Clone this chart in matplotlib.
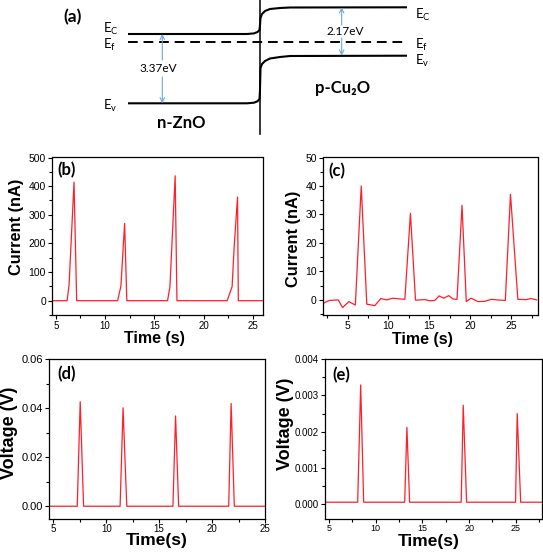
"""
band diagram + photo-response traces (panels a-e)
"""

import matplotlib
matplotlib.use('Agg')
from matplotlib import pyplot as plt
from matplotlib.ticker import MultipleLocator

plt.rcParams['font.family'] = ['Liberation Sans', 'DejaVu Sans']
plt.rcParams['mathtext.fontset'] = 'custom'
plt.rcParams['mathtext.rm'] = 'Lato'

# (a) band diagram, schematic units (x right, y down)
ec_x = [128, 247, 254, 257.5, 259.5, 260, 260.5, 262, 265, 270, 280, 290, 407]
ec_y = [34, 34, 33.4, 32, 30, 25, 18, 14, 11, 9, 8, 7.5, 7.3]
ev_x = [128, 247, 254, 257.5, 259.5, 260, 260.5, 262, 265, 270, 280, 290, 407]
ev_y = [103.3, 103.3, 102.7, 101.3, 99, 90, 68, 64, 61, 58.5, 57, 56, 55.7]
ef_x = [128, 407]
ef_y = [42.3, 42.3]
junction_x = [260, 260]
junction_y = [0, 134]
gap_labels = ['3.37eV', '2.17eV']

# (b) current
b_time = [4.65, 6.15, 6.35, 6.85, 7.12, 11.27, 11.6, 11.98, 12.2, 16.33, 16.57, 17.1, 17.28,
          22.37, 22.87, 23.08, 23.42, 23.5, 26.0]
b_current = [0, 0, 55, 414, 0, 0, 51, 270, 0, 0, 49, 436, 0, 0, 49, 189, 362, 0, 0]

# (c) current
c_time = [2.0, 2.76, 3.86, 4.39, 5.16, 5.95, 6.67, 7.35, 8.33, 9.07, 9.76, 10.5, 11.2, 12.0,
          12.68, 13.3, 14.43, 15.04, 15.65, 16.18, 16.75, 17.36, 17.89, 18.37, 18.98, 19.5,
          20.08, 20.93, 21.75, 22.56, 23.3, 24.27, 24.9, 25.8, 26.83, 27.4, 28.1]
c_current = [-1.2, -0.2, 0, -2.7, -0.6, -1.8, 40, -1.5, -2, 0.5, 0, 0.6, 0.4, 0.2,
             30.4, -0.1, 0.1, -0.3, -0.2, 1.4, 0.6, 1.5, 0.3, 0.2, 33.2, -0.6,
             0.6, -0.6, -0.5, 0.2, 0, -0.2, 37.1, 0.2, 0.1, 0.5, 0]

# (d) voltage
d_time = [4.62, 7.26, 7.54, 7.86, 11.31, 11.59, 11.94, 16.3, 16.55, 16.84, 21.57, 21.8, 22.1, 25.0]
d_voltage = [0, 0, 0.0426, 0, 0, 0.0401, 0, 0, 0.0368, 0, 0, 0.0419, 0, 0]

# (e) voltage
e_time = [4.57, 8.07, 8.39, 8.71, 13.1, 13.34, 13.63, 19.15, 19.37, 19.73, 24.97, 25.15, 25.52, 27.75]
e_voltage = [0.00005, 0.00005, 0.00329, 0.00005, 0.00005, 0.00212, 0.00005,
             0.00005, 0.00273, 0.00005, 0.00005, 0.0025, 0.00005, 0.00005]

RED = '#ff1f2a'
BLUE = '#6fa8dc'
W, H = 543, 553


def px_axes(fig, left, top, right, bottom):
    # axes from pixel box (origin top-left)
    return fig.add_axes([left / W, 1 - bottom / H, (right - left) / W, (bottom - top) / H])


def style_panel(ax, xlim, ylim, xmaj, ymaj, xfs, yfs):
    ax.set_xlim(xlim)
    ax.set_ylim(ylim)
    ax.xaxis.set_major_locator(MultipleLocator(xmaj))
    ax.xaxis.set_minor_locator(MultipleLocator(xmaj / 2))
    ax.yaxis.set_major_locator(MultipleLocator(ymaj))
    ax.yaxis.set_minor_locator(MultipleLocator(ymaj / 2))
    ax.tick_params(which='major', direction='out', length=3, width=0.8, pad=1.5)
    ax.tick_params(which='minor', direction='out', length=2, width=0.8)
    ax.tick_params(axis='x', labelsize=xfs, pad=1)
    ax.tick_params(axis='y', labelsize=yfs)
    for s in ax.spines.values():
        s.set_linewidth(0.9)


def panel_tag(ax, tag, x, y):
    ax.text(x, y, tag, transform=ax.transAxes, ha='center', va='center',
            fontsize=12, fontweight='bold', family='Lato')


fig = plt.figure(figsize=(W / 100, H / 100), dpi=100)

# ---- (a)
ax = px_axes(fig, 0, 0, W, 135)
ax.set_xlim(0, W)
ax.set_ylim(135, 0)
ax.axis('off')
ax.plot(ec_x, ec_y, color='k', lw=1.5, solid_capstyle='butt')
ax.plot(ev_x, ev_y, color='k', lw=1.5, solid_capstyle='butt')
ax.plot(ef_x, ef_y, color='k', lw=1.4, dashes=(5, 3))
ax.plot(junction_x, junction_y, color='k', lw=1.1)

arrow = dict(arrowstyle='->', color=BLUE, lw=0.8, mutation_scale=8, shrinkA=0, shrinkB=0)
ax.annotate('', xy=(162.3, ec_y[0]), xytext=(162.3, 60), arrowprops=arrow)
ax.annotate('', xy=(162.3, ev_y[0]), xytext=(162.3, 77), arrowprops=arrow)
ax.annotate('', xy=(341.7, ec_y[-1]), xytext=(341.7, 25), arrowprops=arrow)
ax.annotate('', xy=(341.7, ev_y[-1]), xytext=(341.7, 38), arrowprops=arrow)
ax.text(158, 68.5, gap_labels[0], ha='center', va='center', fontsize=8.5, family='Lato')
ax.text(345, 31.5, gap_labels[1], ha='center', va='center', fontsize=8.5, family='Lato')

lvl = dict(ha='left', va='center', fontsize=9.5, family='Lato')
ax.text(103, 29, r'E$_{\rm C}$', **lvl)
ax.text(103, 45, r'E$_{\rm f}$', **lvl)
ax.text(103, 106, r'E$_{\rm v}$', **lvl)
ax.text(415, 15, r'E$_{\rm C}$', **lvl)
ax.text(415, 45, r'E$_{\rm f}$', **lvl)
ax.text(415, 61, r'E$_{\rm v}$', **lvl)

ax.text(72.5, 17, '(a)', ha='center', va='center', fontsize=12.5, fontweight='bold', family='Lato')
ax.text(181, 123, 'n-ZnO', ha='center', va='center', fontsize=12, fontweight='bold', family='Lato')
ax.text(343, 87.5, 'p-Cu\u2082O', ha='center', va='center', fontsize=12, fontweight='bold',
        family=['Lato', 'DejaVu Sans'])

# ---- (b)
ax = px_axes(fig, 52.3, 157.5, 263, 315)
ax.plot(b_time, b_current, color=RED, lw=0.9)
style_panel(ax, (4.65, 26.0), (-50, 500), 5, 100, 7, 7.5)
ax.set_xlabel('Time (s)', fontsize=11.5, fontweight='bold')
ax.set_ylabel('Current (nA)', fontsize=11.8, fontweight='bold')
ax.xaxis.set_label_coords(0.487, -0.1)
ax.yaxis.set_label_coords(-0.136, 0.56)
panel_tag(ax, '(b)', 0.07, 0.92)

# ---- (c)
ax = px_axes(fig, 323, 157.5, 537.5, 315)
ax.plot(c_time, c_current, color=RED, lw=0.9)
style_panel(ax, (2.0, 28.2), (-5.3, 50), 5, 10, 7.5, 7.5)
ax.set_xlabel('Time (s)', fontsize=11.5, fontweight='bold')
ax.set_ylabel('Current (nA)', fontsize=11.8, fontweight='bold')
ax.xaxis.set_label_coords(0.463, -0.105)
ax.yaxis.set_label_coords(-0.103, 0.483)
panel_tag(ax, '(c)', 0.064, 0.914)

# ---- (d)
ax = px_axes(fig, 49.3, 359, 265, 518.5)
ax.plot(d_time, d_voltage, color=RED, lw=0.9)
style_panel(ax, (4.62, 25.0), (-0.005, 0.06), 5, 0.02, 7, 8)
ax.yaxis.set_major_formatter(plt.FormatStrFormatter('%.2f'))
ax.set_xlabel('Time(s)', fontsize=12.5, fontweight='bold')
ax.set_ylabel('Voltage (V)', fontsize=13, fontweight='bold')
ax.xaxis.set_label_coords(0.498, -0.09)
ax.yaxis.set_label_coords(-0.145, 0.536)
panel_tag(ax, '(d)', 0.082, 0.904)

# ---- (e)
ax = px_axes(fig, 325, 359.3, 541.5, 518.5)
ax.plot(e_time, e_voltage, color=RED, lw=0.9)
style_panel(ax, (4.57, 27.75), (-0.0004, 0.004), 5, 0.001, 6.5, 7)
ax.yaxis.set_major_formatter(plt.FormatStrFormatter('%.3f'))
ax.set_xlabel('Time(s)', fontsize=12.5, fontweight='bold')
ax.set_ylabel('Voltage (V)', fontsize=13, fontweight='bold')
ax.xaxis.set_label_coords(0.477, -0.095)
ax.yaxis.set_label_coords(-0.145, 0.597)
panel_tag(ax, '(e)', 0.077, 0.901)

fig.savefig('out.png', dpi=100)
